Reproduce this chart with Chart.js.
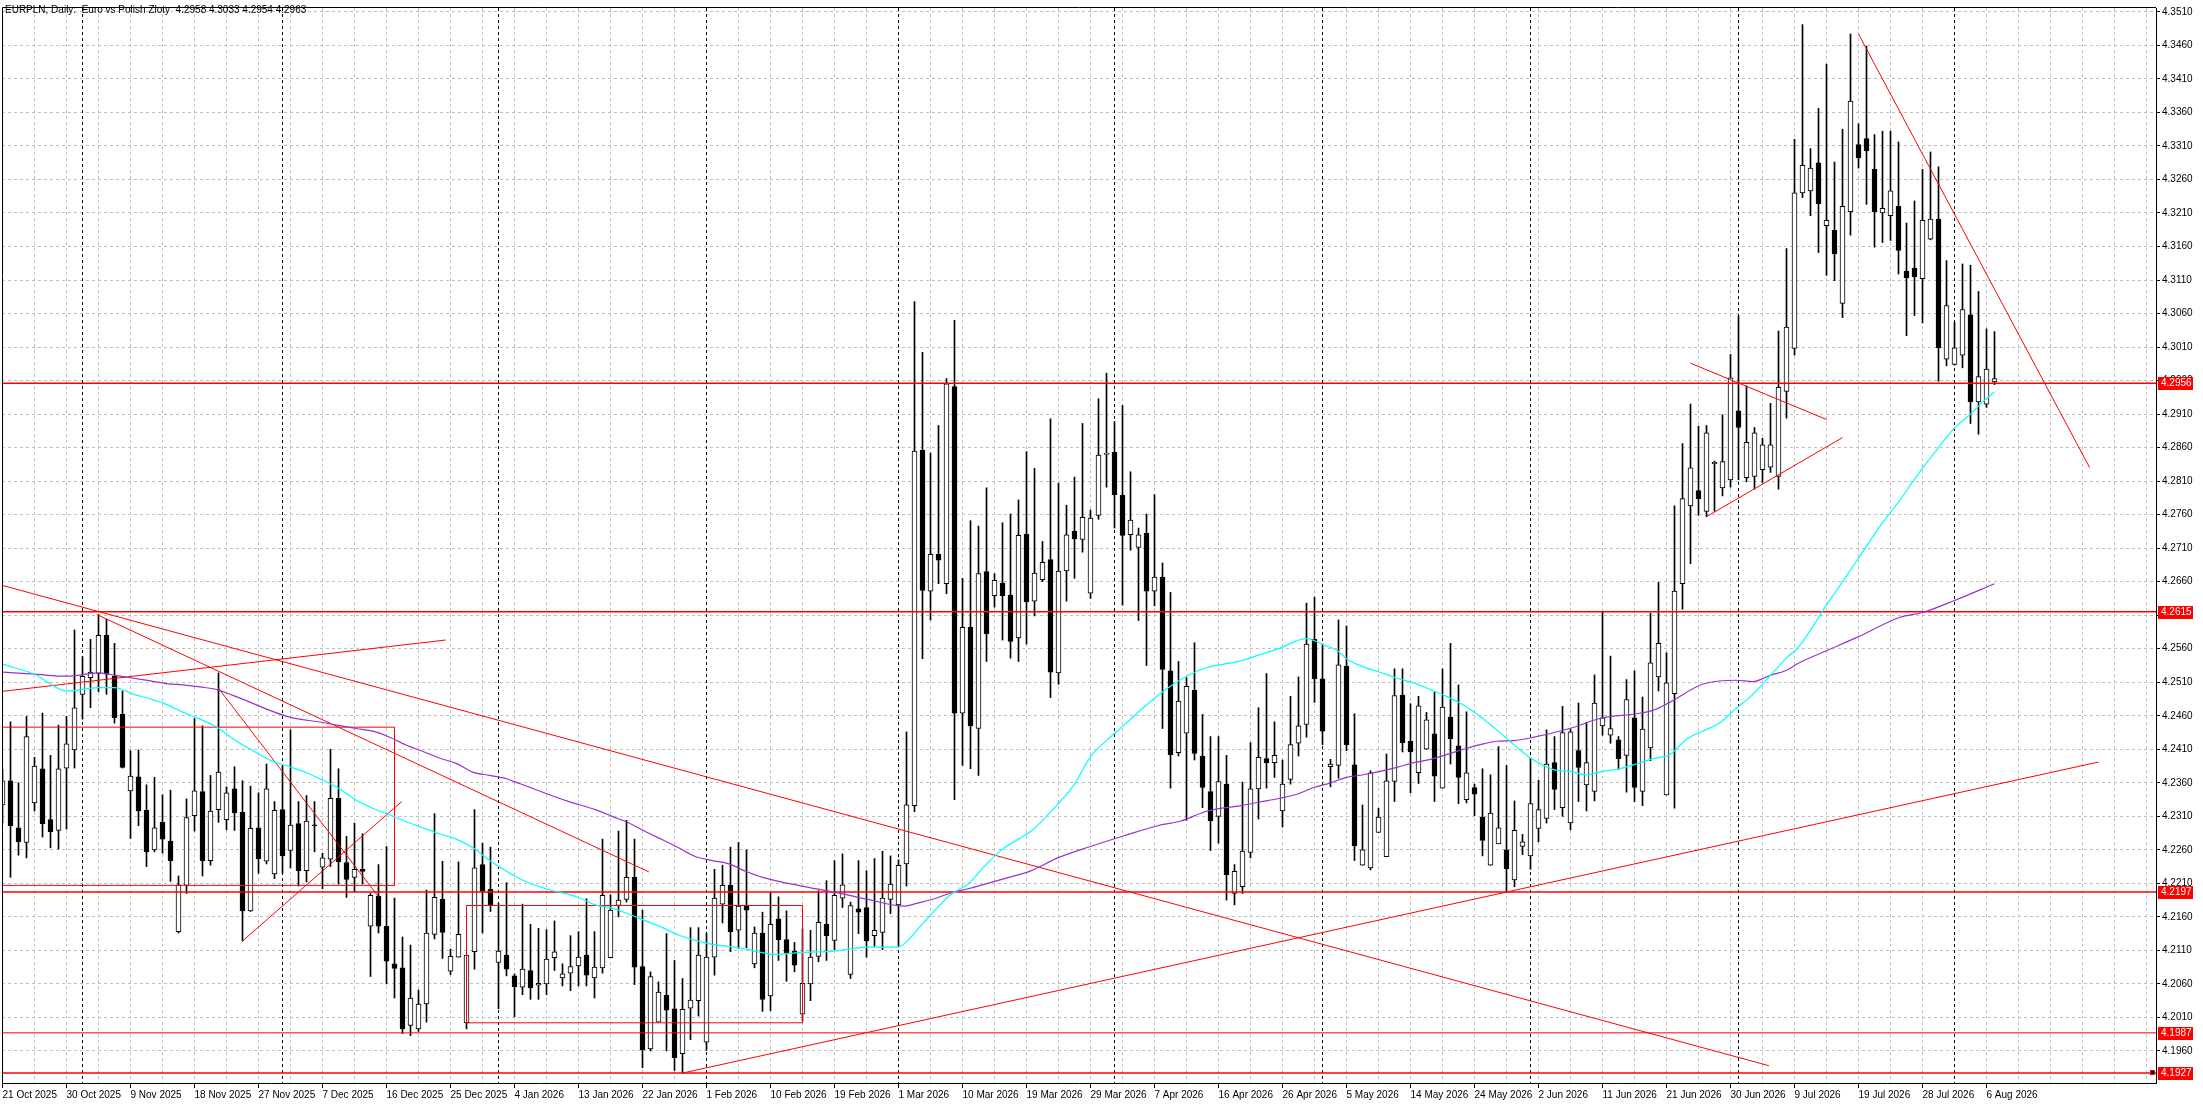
<!DOCTYPE html>
<html>
<head>
<meta charset="utf-8">
<title>EURPLN, Daily</title>
<script src="https://cdn.jsdelivr.net/npm/chart.js@4.4.1/dist/chart.umd.min.js"></script>
<style>
  html, body { margin: 0; padding: 0; background: #ffffff; overflow: hidden; }
  #wrap { width: 2203px; height: 1105px; }
  canvas { display: block; }
</style>
</head>
<body>
<div id="wrap"><canvas id="chart" width="2203" height="1105" style="width:2203px;height:1105px"></canvas></div>
<script>
"use strict";

const titleText = "EURPLN, Daily:  Euro vs Polish Zloty  4.2958 4.3033 4.2954 4.2963";

// one label every 8 bars, starting at bar 0
const tickLabels = [
  "21 Oct 2025", "30 Oct 2025", "9 Nov 2025", "18 Nov 2025", "27 Nov 2025", "7 Dec 2025",
  "16 Dec 2025", "25 Dec 2025", "4 Jan 2026", "13 Jan 2026", "22 Jan 2026", "1 Feb 2026",
  "10 Feb 2026", "19 Feb 2026", "1 Mar 2026", "10 Mar 2026", "19 Mar 2026", "29 Mar 2026",
  "7 Apr 2026", "16 Apr 2026", "26 Apr 2026", "5 May 2026", "14 May 2026", "24 May 2026",
  "2 Jun 2026", "11 Jun 2026", "21 Jun 2026", "30 Jun 2026", "9 Jul 2026", "19 Jul 2026",
  "28 Jul 2026", "6 Aug 2026",
];

const yTickValues = [
  4.1960, 4.2010, 4.2060, 4.2110, 4.2160, 4.2210, 4.2260, 4.2310, 4.2360, 4.2410, 4.2460,
  4.2510, 4.2560, 4.2610, 4.2660, 4.2710, 4.2760, 4.2810, 4.2860, 4.2910, 4.2960, 4.3010,
  4.3060, 4.3110, 4.3160, 4.3210, 4.3260, 4.3310, 4.3360, 4.3410, 4.3460, 4.3510,
];

// bar index of first bar of each month
const monthStarts = [10, 35, 62, 88, 112, 139, 165, 191, 217, 244];

const opens = [
  4.2327, 4.2363, 4.2293, 4.2271, 4.2330, 4.2381, 4.2305, 4.2289, 4.2382, 4.2409,
  4.2492, 4.2517, 4.2523, 4.2580, 4.2519, 4.2462, 4.2348, 4.2369, 4.2319, 4.2260,
  4.2301, 4.2273, 4.2138, 4.2207, 4.2311, 4.2347, 4.2244, 4.2320, 4.2305, 4.2351,
  4.2316, 4.2169, 4.2293, 4.2243, 4.2224, 4.2320, 4.2259, 4.2299, 4.2229, 4.2297,
  4.2234, 4.2246, 4.2337, 4.2241, 4.2219, 4.2231, 4.2146, 4.2191, 4.2146, 4.2090,
  4.2084, 4.1998, 4.1993, 4.2030, 4.2134, 4.2186, 4.2079, 4.2100, 4.2002, 4.2108,
  4.2238, 4.2201, 4.2092, 4.2103, 4.2072, 4.2055, 4.2080, 4.2058, 4.2060, 4.2099,
  4.2069, 4.2076, 4.2087, 4.2103, 4.2069, 4.2084, 4.2099, 4.2177, 4.2186, 4.2219,
  4.2086, 4.1963, 4.2003, 4.2043, 4.2023, 4.1956, 4.2024, 4.2035, 4.1973, 4.2100,
  4.2179, 4.2207, 4.2140, 4.2177, 4.2090, 4.2136, 4.2042, 4.2157, 4.2126, 4.2109,
  4.2015, 4.2060, 4.2101, 4.2149, 4.2125, 4.2188, 4.2074, 4.2172, 4.2174, 4.2132,
  4.2137, 4.2186, 4.2178, 4.2239, 4.2326, 4.2856, 4.2646, 4.2701, 4.2657, 4.2951,
  4.2464, 4.2592, 4.2441, 4.2675, 4.2639, 4.2658, 4.2640, 4.2576, 4.2731, 4.2631,
  4.2663, 4.2693, 4.2524, 4.2676, 4.2735, 4.2723, 4.2643, 4.2759, 4.2850, 4.2853,
  4.2789, 4.2730, 4.2711, 4.2732, 4.2646, 4.2667, 4.2527, 4.2405, 4.2434, 4.2498,
  4.2400, 4.2347, 4.2310, 4.2358, 4.2195, 4.2205, 4.2256, 4.2351, 4.2396, 4.2390,
  4.2318, 4.2365, 4.2419, 4.2447, 4.2574, 4.2515, 4.2384, 4.2386, 4.2534, 4.2387,
  4.2237, 4.2233, 4.2286, 4.2250, 4.2362, 4.2491, 4.2422, 4.2375, 4.2410, 4.2433,
  4.2352, 4.2458, 4.2415, 4.2335, 4.2353, 4.2309, 4.2237, 4.2269, 4.2260, 4.2215,
  4.2265, 4.2251, 4.2292, 4.2307, 4.2390, 4.2323, 4.2300, 4.2408, 4.2357, 4.2347,
  4.2445, 4.2431, 4.2424, 4.2401, 4.2457, 4.2347, 4.2412, 4.2518, 4.2342, 4.2493,
  4.2657, 4.2773, 4.2796, 4.2765, 4.2836, 4.2800, 4.2812, 4.2915, 4.2815, 4.2817,
  4.2827, 4.2831, 4.2817, 4.2944, 4.3008, 4.3240, 4.3243, 4.3285, 4.3191, 4.3184,
  4.3075, 4.3212, 4.3312, 4.3321, 4.3275, 4.3210, 4.3206, 4.3220, 4.3123, 4.3128,
  4.3112, 4.3171, 4.3201, 4.2992, 4.2984, 4.2998, 4.3058, 4.2928, 4.2925, 4.2958,
];

const highs = [
  4.2380, 4.2451, 4.2360, 4.2459, 4.2398, 4.2464, 4.2401, 4.2446, 4.2459, 4.2588,
  4.2548, 4.2574, 4.2611, 4.2604, 4.2568, 4.2497, 4.2408, 4.2409, 4.2357, 4.2368,
  4.2342, 4.2349, 4.2221, 4.2336, 4.2456, 4.2445, 4.2371, 4.2524, 4.2354, 4.2384,
  4.2363, 4.2355, 4.2345, 4.2388, 4.2332, 4.2385, 4.2439, 4.2332, 4.2341, 4.2332,
  4.2255, 4.2410, 4.2381, 4.2280, 4.2300, 4.2284, 4.2195, 4.2238, 4.2265, 4.2188,
  4.2130, 4.2118, 4.2051, 4.2200, 4.2314, 4.2243, 4.2112, 4.2242, 4.2103, 4.2320,
  4.2270, 4.2264, 4.2180, 4.2211, 4.2075, 4.2179, 4.2149, 4.2143, 4.2141, 4.2154,
  4.2090, 4.2132, 4.2138, 4.2187, 4.2138, 4.2276, 4.2193, 4.2288, 4.2304, 4.2276,
  4.2170, 4.2078, 4.2063, 4.2135, 4.2095, 4.2068, 4.2144, 4.2144, 4.2136, 4.2231,
  4.2237, 4.2264, 4.2271, 4.2260, 4.2145, 4.2167, 4.2196, 4.2190, 4.2169, 4.2122,
  4.2142, 4.2140, 4.2199, 4.2214, 4.2244, 4.2254, 4.2182, 4.2244, 4.2229, 4.2247,
  4.2258, 4.2251, 4.2245, 4.2436, 4.3078, 4.3002, 4.2852, 4.2893, 4.2963, 4.3050,
  4.2665, 4.2751, 4.2743, 4.2800, 4.2672, 4.2748, 4.2761, 4.2782, 4.2854, 4.2829,
  4.2720, 4.2903, 4.2807, 4.2774, 4.2816, 4.2896, 4.2767, 4.2933, 4.2971, 4.2899,
  4.2923, 4.2824, 4.2740, 4.2761, 4.2790, 4.2688, 4.2644, 4.2541, 4.2517, 4.2569,
  4.2462, 4.2429, 4.2429, 4.2401, 4.2238, 4.2361, 4.2420, 4.2472, 4.2523, 4.2451,
  4.2394, 4.2489, 4.2518, 4.2628, 4.2637, 4.2567, 4.2395, 4.2603, 4.2594, 4.2463,
  4.2327, 4.2378, 4.2322, 4.2403, 4.2530, 4.2530, 4.2478, 4.2489, 4.2465, 4.2495,
  4.2530, 4.2568, 4.2506, 4.2466, 4.2358, 4.2381, 4.2372, 4.2414, 4.2386, 4.2333,
  4.2283, 4.2397, 4.2364, 4.2439, 4.2429, 4.2474, 4.2440, 4.2479, 4.2450, 4.2521,
  4.2615, 4.2549, 4.2429, 4.2514, 4.2527, 4.2488, 4.2613, 4.2659, 4.2554, 4.2773,
  4.2866, 4.2925, 4.2892, 4.2893, 4.2840, 4.2909, 4.2999, 4.3057, 4.2952, 4.2890,
  4.2874, 4.2926, 4.3034, 4.3157, 4.3320, 4.3491, 4.3306, 4.3366, 4.3432, 4.3286,
  4.3335, 4.3477, 4.3343, 4.3459, 4.3327, 4.3332, 4.3332, 4.3316, 4.3195, 4.3228,
  4.3275, 4.3301, 4.3279, 4.3139, 4.3047, 4.3134, 4.3132, 4.3093, 4.3037, 4.3033,
];

const lows = [
  4.2300, 4.2219, 4.2252, 4.2248, 4.2318, 4.2279, 4.2263, 4.2261, 4.2291, 4.2382,
  4.2455, 4.2472, 4.2496, 4.2492, 4.2449, 4.2382, 4.2277, 4.2296, 4.2235, 4.2257,
  4.2255, 4.2213, 4.2136, 4.2195, 4.2288, 4.2221, 4.2237, 4.2301, 4.2290, 4.2289,
  4.2124, 4.2168, 4.2225, 4.2239, 4.2217, 4.2225, 4.2233, 4.2206, 4.2212, 4.2257,
  4.2202, 4.2235, 4.2209, 4.2189, 4.2197, 4.2209, 4.2071, 4.2136, 4.2060, 4.2039,
  4.1986, 4.1983, 4.1989, 4.2003, 4.2127, 4.2098, 4.2074, 4.2100, 4.1993, 4.2082,
  4.2136, 4.2168, 4.2023, 4.2072, 4.2011, 4.2044, 4.2037, 4.2037, 4.2044, 4.2080,
  4.2057, 4.2050, 4.2057, 4.2057, 4.2039, 4.2076, 4.2099, 4.2160, 4.2182, 4.2059,
  4.1935, 4.1960, 4.2003, 4.1960, 4.1931, 4.1927, 4.1977, 4.2012, 4.1961, 4.2073,
  4.2151, 4.2108, 4.2113, 4.2114, 4.2084, 4.2019, 4.2020, 4.2095, 4.2064, 4.2078,
  4.2005, 4.2035, 4.2093, 4.2095, 4.2111, 4.2174, 4.2068, 4.2135, 4.2100, 4.2116,
  4.2111, 4.2165, 4.2116, 4.2206, 4.2317, 4.2545, 4.2603, 4.2657, 4.2642, 4.2335,
  4.2386, 4.2381, 4.2371, 4.2541, 4.2622, 4.2573, 4.2546, 4.2541, 4.2567, 4.2609,
  4.2660, 4.2487, 4.2507, 4.2631, 4.2665, 4.2704, 4.2635, 4.2753, 4.2801, 4.2740,
  4.2625, 4.2707, 4.2602, 4.2535, 4.2624, 4.2441, 4.2352, 4.2400, 4.2304, 4.2394,
  4.2323, 4.2259, 4.2270, 4.2185, 4.2178, 4.2195, 4.2248, 4.2306, 4.2352, 4.2368,
  4.2294, 4.2358, 4.2400, 4.2428, 4.2480, 4.2417, 4.2354, 4.2367, 4.2408, 4.2244,
  4.2237, 4.2230, 4.2286, 4.2250, 4.2332, 4.2406, 4.2345, 4.2359, 4.2410, 4.2332,
  4.2352, 4.2388, 4.2329, 4.2330, 4.2311, 4.2251, 4.2237, 4.2269, 4.2197, 4.2205,
  4.2253, 4.2231, 4.2272, 4.2300, 4.2320, 4.2310, 4.2290, 4.2332, 4.2318, 4.2333,
  4.2431, 4.2419, 4.2380, 4.2346, 4.2332, 4.2326, 4.2393, 4.2497, 4.2342, 4.2322,
  4.2619, 4.2687, 4.2759, 4.2757, 4.2765, 4.2788, 4.2801, 4.2812, 4.2809, 4.2798,
  4.2808, 4.2823, 4.2798, 4.2904, 4.2998, 4.3233, 4.3206, 4.3151, 4.3117, 4.3109,
  4.3054, 4.3177, 4.3277, 4.3223, 4.3159, 4.3166, 4.3169, 4.3119, 4.3027, 4.3057,
  4.3046, 4.3170, 4.2959, 4.2982, 4.2983, 4.2979, 4.2896, 4.2880, 4.2920, 4.2954,
];

const closes = [
  4.2363, 4.2296, 4.2272, 4.2429, 4.2385, 4.2299, 4.2287, 4.2381, 4.2418, 4.2472,
  4.2519, 4.2525, 4.2580, 4.2522, 4.2457, 4.2383, 4.2370, 4.2318, 4.2257, 4.2293,
  4.2276, 4.2244, 4.2208, 4.2308, 4.2348, 4.2244, 4.2318, 4.2376, 4.2345, 4.2315,
  4.2169, 4.2292, 4.2247, 4.2351, 4.2319, 4.2251, 4.2297, 4.2229, 4.2303, 4.2296,
  4.2248, 4.2337, 4.2242, 4.2216, 4.2231, 4.2228, 4.2192, 4.2146, 4.2094, 4.2083,
  4.1993, 4.2039, 4.2030, 4.2136, 4.2189, 4.2137, 4.2101, 4.2134, 4.2103, 4.2233,
  4.2198, 4.2178, 4.2109, 4.2082, 4.2056, 4.2082, 4.2054, 4.2061, 4.2097, 4.2108,
  4.2075, 4.2086, 4.2100, 4.2073, 4.2085, 4.2192, 4.2170, 4.2185, 4.2219, 4.2085,
  4.1962, 4.2071, 4.2048, 4.2021, 4.1950, 4.2022, 4.2036, 4.2103, 4.2100, 4.2188,
  4.2207, 4.2138, 4.2176, 4.2170, 4.2136, 4.2037, 4.2149, 4.2126, 4.2106, 4.2088,
  4.2061, 4.2100, 4.2152, 4.2132, 4.2192, 4.2208, 4.2177, 4.2167, 4.2124, 4.2140,
  4.2188, 4.2209, 4.2237, 4.2327, 4.2855, 4.2647, 4.2701, 4.2692, 4.2955, 4.2464,
  4.2592, 4.2445, 4.2672, 4.2582, 4.2662, 4.2639, 4.2571, 4.2729, 4.2630, 4.2673,
  4.2689, 4.2525, 4.2676, 4.2730, 4.2724, 4.2756, 4.2755, 4.2849, 4.2851, 4.2790,
  4.2729, 4.2752, 4.2730, 4.2646, 4.2667, 4.2529, 4.2402, 4.2482, 4.2504, 4.2404,
  4.2353, 4.2303, 4.2362, 4.2223, 4.2228, 4.2258, 4.2351, 4.2398, 4.2390, 4.2401,
  4.2358, 4.2417, 4.2445, 4.2567, 4.2515, 4.2437, 4.2388, 4.2536, 4.2417, 4.2266,
  4.2260, 4.2375, 4.2309, 4.2363, 4.2490, 4.2420, 4.2406, 4.2475, 4.2454, 4.2370,
  4.2473, 4.2426, 4.2368, 4.2375, 4.2343, 4.2274, 4.2315, 4.2293, 4.2232, 4.2289,
  4.2272, 4.2329, 4.2320, 4.2388, 4.2350, 4.2435, 4.2436, 4.2383, 4.2390, 4.2479,
  4.2457, 4.2441, 4.2396, 4.2484, 4.2353, 4.2440, 4.2539, 4.2568, 4.2509, 4.2646,
  4.2784, 4.2830, 4.2784, 4.2882, 4.2838, 4.2839, 4.2964, 4.2890, 4.2868, 4.2882,
  4.2864, 4.2864, 4.2950, 4.3040, 4.3240, 4.3281, 4.3277, 4.3224, 4.3199, 4.3149,
  4.3220, 4.3377, 4.3292, 4.3303, 4.3212, 4.3217, 4.3243, 4.3154, 4.3113, 4.3115,
  4.3199, 4.3201, 4.3009, 4.3072, 4.3009, 4.3066, 4.2928, 4.2966, 4.2977, 4.2963,
];

// moving averages: [bar, price]
const fastMa = [
  [0, 4.2537], [4, 4.2522], [8, 4.2497], [12, 4.2502], [14, 4.2502], [16.4, 4.2492],
  [18.5, 4.2485], [20.5, 4.2477], [22.6, 4.2465], [24.7, 4.2455], [26.8, 4.2443],
  [28.9, 4.2425], [31, 4.2410], [33.8, 4.2392], [35.9, 4.2384], [38, 4.2375], [40, 4.2364],
  [42.1, 4.2351], [44.2, 4.2334], [46.3, 4.2322], [48.4, 4.2312], [50.5, 4.2302],
  [52.5, 4.2293], [54.6, 4.2284], [56.7, 4.2276], [58.8, 4.2263], [60.9, 4.2244],
  [63, 4.2228], [65, 4.2215], [67.9, 4.2202], [72, 4.2189], [74.1, 4.2178], [76.2, 4.2173],
  [78.3, 4.2164], [80.4, 4.2154], [82.5, 4.2144], [84.5, 4.2133], [86.6, 4.2125],
  [88.7, 4.2119], [90.8, 4.2116], [92.9, 4.2112], [96.6, 4.2104], [99.9, 4.2107],
  [104, 4.2109], [108.2, 4.2115], [112, 4.2115], [113.2, 4.2125], [114.5, 4.2143],
  [116.5, 4.2169], [118.6, 4.2194], [120.7, 4.2209], [122.8, 4.2236], [124.9, 4.2260],
  [127, 4.2276], [128.6, 4.2288], [131.9, 4.2328], [134, 4.2358], [136, 4.2399],
  [138.1, 4.2424], [140.2, 4.2446], [142.3, 4.2469], [144.4, 4.2490], [146.5, 4.2508],
  [148.5, 4.2522], [150.6, 4.2532], [152.7, 4.2537], [154.8, 4.2542], [156.9, 4.2550],
  [159.7, 4.2561], [163, 4.2575], [165.1, 4.2566], [167, 4.2556], [168, 4.2545],
  [170.1, 4.2533], [172.2, 4.2525], [174.3, 4.2516], [176.4, 4.2509], [178.5, 4.2499],
  [180.5, 4.2489], [182.6, 4.2476], [184.7, 4.2459], [186.8, 4.2439], [188.9, 4.2417],
  [191, 4.2397], [193.8, 4.2380], [195.9, 4.2377], [198, 4.2372], [200, 4.2377],
  [202.1, 4.2381], [204.2, 4.2388], [206.3, 4.2396], [208.4, 4.2402], [210.5, 4.2425],
  [212.5, 4.2437], [214.6, 4.2449], [216.7, 4.2471], [218.8, 4.2492], [220.9, 4.2519],
  [223, 4.2546], [224.6, 4.2564], [228, 4.2625], [232, 4.2695], [235, 4.2748],
  [237.2, 4.2782], [239.3, 4.2818], [241.4, 4.2851], [244, 4.2889], [246, 4.2910],
  [247.6, 4.2929], [249, 4.2943],
];

const slowMa = [
  [0, 4.2525], [4, 4.2522], [8, 4.2519], [12, 4.2524], [14.3, 4.2520], [16.4, 4.2516],
  [18.5, 4.2512], [20.5, 4.2508], [22.6, 4.2506], [24.7, 4.2503], [26.8, 4.2499],
  [28.9, 4.2490], [31, 4.2480], [33, 4.2470], [35.9, 4.2458], [40, 4.2450], [44.2, 4.2441],
  [46.3, 4.2437], [48.4, 4.2428], [50.5, 4.2416], [52.5, 4.2407], [54.6, 4.2397],
  [56.7, 4.2389], [58.8, 4.2376], [60.9, 4.2371], [63, 4.2366], [64.6, 4.2359],
  [70.8, 4.2332], [74.1, 4.2320], [76.2, 4.2310], [78.3, 4.2300], [80.4, 4.2287],
  [82.5, 4.2275], [84.5, 4.2263], [86.6, 4.2250], [88.7, 4.2244], [90.8, 4.2239],
  [92.9, 4.2228], [95, 4.2219], [99.9, 4.2206], [104, 4.2197], [108.2, 4.2186],
  [112.6, 4.2176], [114.5, 4.2181], [116.5, 4.2187], [118.6, 4.2196], [120.7, 4.2202],
  [124.9, 4.2216], [128.6, 4.2229], [131.9, 4.2248], [136, 4.2265], [140.2, 4.2281],
  [144.4, 4.2296], [147.3, 4.2303], [150.6, 4.2318], [154.8, 4.2326], [157, 4.2331],
  [159.7, 4.2337], [161.8, 4.2343], [163.9, 4.2353], [166, 4.2360], [168, 4.2368],
  [170.1, 4.2372], [172.2, 4.2377], [174.3, 4.2383], [176.4, 4.2390], [178.5, 4.2395],
  [180.5, 4.2402], [182.6, 4.2410], [184.7, 4.2417], [186.8, 4.2422], [188.9, 4.2423],
  [191, 4.2427], [195.9, 4.2441], [200, 4.2457], [204.2, 4.2463], [206.3, 4.2468],
  [208.4, 4.2480], [212.5, 4.2507], [216.7, 4.2513], [218.8, 4.2511], [220.9, 4.2520],
  [223, 4.2528], [224.6, 4.2539], [228, 4.2557], [232, 4.2578], [237.2, 4.2607],
  [240, 4.2614], [244, 4.2632], [249, 4.2657],
];

const levelPrices = [4.2956, 4.2615, 4.2197, 4.1987, 4.1927];

// [barFrom, priceFrom, barTo, priceTo]
const trendlines = [
  [-0.5, 4.2656, 220.8, 4.1938],
  [11.8, 4.2611, 80.8, 4.2227],
  [-0.3, 4.2496, 55.4, 4.2573],
  [27, 4.2501, 47, 4.2190],
  [30, 4.2124, 49.9, 4.2332],
  [85, 4.1927, 262, 4.2391],
  [232, 4.3477, 260.9, 4.2830],
  [211, 4.2986, 228, 4.2902],
  [213, 4.2757, 230, 4.2875],
];

// [barFrom, priceLow, barTo, priceHigh]
const boxes = [
  [-1, 4.2207, 49, 4.2443],
  [58, 4.2002, 100, 4.2177],
];

const FONT = "'Liberation Sans', Arial, sans-serif";
const RED = "#FF0000";

const ChartModule = {
  xMin: -0.0625,
  xMax: 269.1875,

  init() {
    Chart.defaults.font.family = FONT;
    Chart.defaults.font.size = 10;
    Chart.defaults.color = "#000000";

    const ctx = document.getElementById("chart");
    this.chart = new Chart(ctx, {
      type: "bar",
      data: { datasets: this._buildDatasets() },
      options: this._options(),
      plugins: [this._separatorPlugin(), this._overlayPlugin()],
    });
  },

  _buildDatasets() {
    const bars = opens.map((_, i) => i);
    const line = (data, color, width) => ({
      type: "line",
      data,
      borderColor: color,
      borderWidth: width,
      pointRadius: 0,
      fill: false,
      tension: 0,
      order: 0,
    });

    const sets = [];

    sets.push(
      Object.assign(
        line(fastMa.map(([x, y]) => ({ x, y })), "#00FFFF", 1.2),
        { cubicInterpolationMode: "monotone" },
      ),
    );
    sets.push(
      Object.assign(
        line(slowMa.map(([x, y]) => ({ x, y })), "#9932CC", 1.2),
        { cubicInterpolationMode: "monotone" },
      ),
    );

    levelPrices.forEach((p) => {
      const w = p === 4.1987 ? 1 : 1.5;
      sets.push(line([{ x: -5, y: p }, { x: 280, y: p }], RED, w));
    });

    trendlines.forEach(([x1, y1, x2, y2]) => {
      sets.push(line([{ x: x1, y: y1 }, { x: x2, y: y2 }], RED, 1));
    });

    boxes.forEach(([x1, lo, x2, hi]) => {
      sets.push(
        line(
          [
            { x: x1, y: lo },
            { x: x1, y: hi },
            { x: x2, y: hi },
            { x: x2, y: lo },
            { x: x1, y: lo },
          ],
          RED,
          1,
        ),
      );
    });

    sets.push({
      type: "bar",
      data: bars.map((i) => ({ x: i, y: [opens[i], closes[i]] })),
      backgroundColor: bars.map((i) => (closes[i] >= opens[i] ? "#FFFFFF" : "#000000")),
      borderColor: "#000000",
      borderWidth: 1,
      borderSkipped: false,
      barThickness: 5,
      minBarLength: 1,
      grouped: false,
      order: 1,
    });

    sets.push({
      type: "bar",
      data: bars.map((i) => ({ x: i, y: [lows[i], highs[i]] })),
      backgroundColor: "#000000",
      borderWidth: 0,
      barThickness: 1,
      grouped: false,
      order: 2,
    });

    return sets;
  },

  _options() {
    return {
      responsive: false,
      animation: false,
      events: [],
      layout: { padding: { left: 2, top: 2, right: 0, bottom: 0 } },
      plugins: {
        legend: { display: false },
        tooltip: { enabled: false },
      },
      scales: {
        x: {
          type: "linear",
          min: this.xMin,
          max: this.xMax,
          offset: false,
          afterBuildTicks: (scale) => {
            const ticks = [];
            for (let v = 0; v <= 268; v += 4) ticks.push({ value: v });
            scale.ticks = ticks;
          },
          afterFit: (scale) => {
            scale.height = 22;
          },
          ticks: {
            autoSkip: false,
            maxRotation: 0,
            align: "start",
            padding: 1,
            font: { size: 10, family: FONT },
            color: "#000000",
            callback: (v) => this._xLabel(v),
          },
          grid: {
            offset: false,
            color: "#C0C0C0",
            lineWidth: 1,
            tickLength: 5,
            tickColor: (c) => (c.tick && this._xLabel(c.tick.value) ? "#000000" : "rgba(0,0,0,0)"),
          },
          border: { display: true, color: "#000000", width: 1, dash: [3, 3] },
        },
        y: {
          position: "right",
          min: 4.19122,
          max: 4.35158,
          afterBuildTicks: (scale) => {
            scale.ticks = yTickValues.map((v) => ({ value: v }));
          },
          afterFit: (scale) => {
            scale.width = 47;
          },
          ticks: {
            padding: 2,
            font: { size: 10, family: FONT },
            color: "#000000",
            callback: (v) => Number(v).toFixed(4),
          },
          grid: {
            color: "#C0C0C0",
            lineWidth: 1,
            tickLength: 4,
            tickColor: "#000000",
          },
          border: { display: true, color: "#000000", width: 1, dash: [3, 3] },
        },
      },
    };
  },

  _xLabel(v) {
    if (v % 8 !== 0) return "";
    return tickLabels[v / 8] || "";
  },

  _separatorPlugin() {
    return {
      id: "monthSeparators",
      beforeDatasetsDraw(chart) {
        const { ctx, chartArea, scales } = chart;
        ctx.save();
        ctx.strokeStyle = "#000000";
        ctx.lineWidth = 1;
        ctx.setLineDash([3, 3]);
        monthStarts.forEach((bar) => {
          const x = Math.floor(scales.x.getPixelForValue(bar)) + 0.5;
          ctx.beginPath();
          ctx.moveTo(x, chartArea.top);
          ctx.lineTo(x, chartArea.bottom);
          ctx.stroke();
        });
        ctx.restore();
      },
    };
  },

  _overlayPlugin() {
    return {
      id: "terminalOverlay",
      afterDraw(chart) {
        const { ctx, chartArea, scales } = chart;
        ctx.save();

        // frame
        ctx.strokeStyle = "#000000";
        ctx.lineWidth = 1;
        ctx.beginPath();
        ctx.moveTo(chartArea.left + 0.5, chartArea.bottom);
        ctx.lineTo(chartArea.left + 0.5, chartArea.top - 0.5);
        ctx.lineTo(chartArea.right, chartArea.top - 0.5);
        ctx.stroke();

        // title
        ctx.font = "10px " + FONT;
        ctx.fillStyle = "#000000";
        ctx.textBaseline = "middle";
        ctx.textAlign = "left";
        ctx.fillText(titleText, 5, 10);

        // price tags of the horizontal lines
        levelPrices.forEach((p) => {
          const y = Math.round(scales.y.getPixelForValue(p));
          ctx.fillStyle = RED;
          ctx.fillRect(chartArea.right + 2, y - 6, 35, 13);
          ctx.fillStyle = "#FFFFFF";
          ctx.fillText(p.toFixed(4), chartArea.right + 5, y + 0.5);
        });

        // anchor marker of the lowest level
        const yLow = Math.round(scales.y.getPixelForValue(levelPrices[levelPrices.length - 1]));
        ctx.fillStyle = RED;
        ctx.fillRect(chartArea.right - 6, yLow - 3, 5, 5);
        ctx.fillStyle = "#000000";
        ctx.fillRect(chartArea.right - 5, yLow - 2, 3, 3);

        ctx.restore();
      },
    };
  },
};

ChartModule.init();
</script>
</body>
</html>
